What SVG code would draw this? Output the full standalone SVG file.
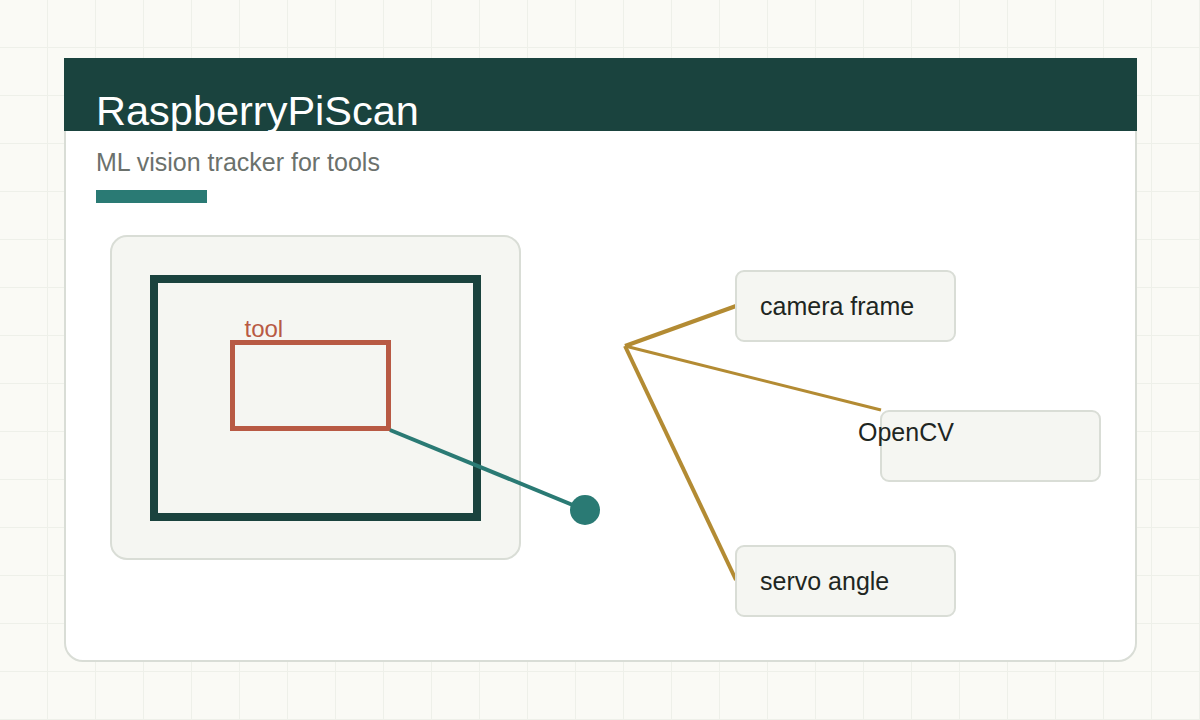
<svg xmlns="http://www.w3.org/2000/svg" width="1200" height="720" viewBox="0 0 1200 720">
  <defs>
    <pattern id="grid" width="48" height="48" patternUnits="userSpaceOnUse">
      <path d="M48 0 V48 M0 48 H48" fill="none" stroke="#eef0e9" stroke-width="2"/>
    </pattern>
  </defs>
  <style>
    .sans { font-family: "Liberation Sans", Arial, sans-serif; }
    .node rect { fill: #f5f6f2; stroke: #d9ddd6; stroke-width: 2; }
    .node text { fill: #1e2622; font-size: 25px; }
    .gold { stroke: #b38b33; fill: none; stroke-linecap: butt; }
  </style>
  <rect x="0" y="0" width="1200" height="720" fill="#fafaf5"/>
  <rect x="0" y="0" width="1200" height="720" fill="url(#grid)"/>

  <g id="card">
    <rect x="65" y="59" width="1071" height="602" rx="18" fill="#ffffff" stroke="#d9ddd6" stroke-width="2"/>
    <rect x="64" y="58" width="1073" height="73" fill="#1a433e"/>
    <text class="sans" x="96" y="124.5" font-size="41.5" fill="#ffffff">RaspberryPiScan</text>
    <text class="sans" x="96" y="171" font-size="25" fill="#6b716c">ML vision tracker for tools</text>
    <rect x="96" y="190" width="111" height="13" fill="#2a7a74"/>
  </g>

  <g id="frame-panel">
    <rect x="111" y="236" width="409" height="323" rx="16" fill="#f5f6f2" stroke="#d9ddd6" stroke-width="2"/>
    <rect x="154" y="279" width="323" height="238" fill="none" stroke="#1a433e" stroke-width="8"/>
  </g>

  <g id="tool-box">
    <rect x="232.5" y="342.5" width="156" height="86" fill="none" stroke="#b85a44" stroke-width="5"/>
    <text class="sans" x="244.5" y="337" font-size="24" fill="#b85a44">tool</text>
  </g>

  <g id="connectors">
    <line x1="390" y1="430" x2="585" y2="510" stroke="#2a7a74" stroke-width="4"/>
    <circle cx="585" cy="510" r="15" fill="#2a7a74"/>
    <line class="gold" x1="625" y1="346" x2="736" y2="306" stroke-width="4"/>
    <line class="gold" x1="625" y1="346" x2="881" y2="410" stroke-width="3"/>
    <line class="gold" x1="625" y1="346" x2="736" y2="580" stroke-width="4"/>
  </g>

  <g id="node-camera" class="node">
    <rect x="736" y="271" width="219" height="70" rx="8"/>
    <text class="sans" x="760" y="315">camera frame</text>
  </g>
  <g id="node-opencv" class="node">
    <rect x="881" y="411" width="219" height="70" rx="8"/>
    <text class="sans" x="858" y="441">OpenCV</text>
  </g>
  <g id="node-servo" class="node">
    <rect x="736" y="546" width="219" height="70" rx="8"/>
    <text class="sans" x="760" y="590">servo angle</text>
  </g>
</svg>
